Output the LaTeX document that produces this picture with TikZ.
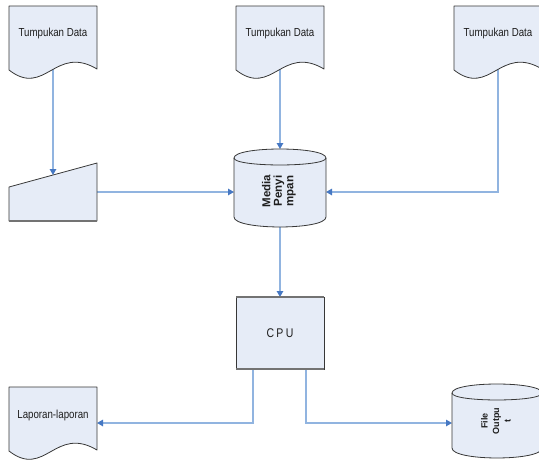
\documentclass[tikz,border=0pt]{standalone}
\usepackage{fontspec}
\setmainfont{Liberation Sans}
\usetikzlibrary{arrows.meta,calc}
\definecolor{shfill}{RGB}{230,236,247}
\definecolor{shdraw}{RGB}{55,55,55}
\definecolor{conncol}{RGB}{145,180,224}
\definecolor{tipcol}{RGB}{70,120,195}
\definecolor{edgegray}{RGB}{115,115,115}
\definecolor{txtcol}{RGB}{30,30,30}
\pgfdeclarelayer{bg}
\pgfsetlayers{bg,main}
\newcommand\docshape[2]{%
  \begin{scope}[shift={(#1,#2)}]
    \path[shapefill] (0,0) -- (88,0) -- (88,63) .. controls (46,38) and (36,92) .. (0,64) -- cycle;
  \end{scope}}
\newcommand\tallt[1]{\scalebox{1}[1.2]{#1}}
\begin{document}
\begin{tikzpicture}[x=1pt,y=-1pt,
  shapefill/.style={fill=shfill,draw=shdraw,line width=0.8pt,line join=round},
  box/.style={draw=none,inner sep=0pt,outer sep=0pt,rectangle},
  doctext/.style={font=\fontsize{9.7}{11}\selectfont,text=txtcol,inner sep=0pt},
  vtext/.style={rotate=90,align=center,inner sep=0pt,text=txtcol},
  conn/.style={draw=conncol,line width=1.3pt,-{Triangle[length=6pt,width=6.5pt,color=tipcol]}},
  thickedge/.style={draw=edgegray,line width=2pt}]
\useasboundingbox (0,0) rectangle (539,459);

% document shapes
\docshape{9}{6}
\docshape{236}{6}
\docshape{454}{6}
\docshape{9}{387}
\node[doctext] (d1) at (53,33) {\tallt{Tumpukan Data}};
\node[doctext] (d2) at (280,33) {\tallt{Tumpukan Data}};
\node[doctext] (d3) at (498,33) {\tallt{Tumpukan Data}};
\node[doctext] (lap) at (53,415) {\tallt{Laporan-laporan}};

% manual input
\node[box,minimum width=88pt,minimum height=58pt] (mi) at (53,192) {};
\path[shapefill] (mi.south west) -- (mi.south east) -- (mi.north east) -- ($(mi.south west)+(0,-34)$) -- cycle;
\draw[thickedge] (mi.south west) -- (mi.south east);

% media penyimpan
\node[box,minimum width=92pt,minimum height=78pt] (media) at (280,188) {};
\path[shapefill] (234,158) .. controls (234,146) and (326,146) .. (326,158) -- (326,217)
  .. controls (326,230.3) and (234,230.3) .. (234,217) -- cycle;
\draw[draw=shdraw,line width=0.8pt] (234,158) .. controls (234,167.3) and (326,167.3) .. (326,158);
\node[vtext,font=\bfseries\fontsize{11.5}{11.5}\selectfont] (medtext) at (279,191) {Media\\Penyi\\mpan};

% CPU
\node[rectangle,fill=shfill,draw=shdraw,line width=1pt,minimum width=88pt,minimum height=72pt,
  inner sep=0pt,outer sep=0pt,text=txtcol,
  font=\fontsize{10.5}{12}\selectfont\addfontfeatures{LetterSpace=22}] (cpu) at (280,333) {\tallt{CPU}};
\draw[thickedge] (cpu.north west) -- (cpu.north east);
\draw[thickedge] (cpu.south west) -- (cpu.south east);

% file output
\node[box,minimum width=90pt,minimum height=74pt] (fo) at (497,421) {};
\path[shapefill] (452,393) .. controls (452,381) and (542,381) .. (542,393) -- (542,448)
  .. controls (542,461.3) and (452,461.3) .. (452,448) -- cycle;
\draw[draw=shdraw,line width=0.8pt] (452,393) .. controls (452,402.3) and (542,402.3) .. (542,393);
\node[vtext,font=\bfseries\fontsize{9}{11.5}\selectfont] (fotext) at (496,421) {File\\Outpu\\t};

\coordinate (mitop) at (53,175);
\coordinate (lapin) at (97,423);
\coordinate (foin) at (452,423);

\begin{pgfonlayer}{bg}
\draw[conn] (d1) -- (mitop);
\draw[conn] (d2) -- (media.north);
\draw[conn] (mi.east) -- (mi.east -| media.west);
\draw[conn] (d3) |- (mi.east -| media.east);
\draw[conn] (media.south) -- (cpu.north);
\draw[conn] ([xshift=-27pt]cpu.south) |- (lapin);
\draw[conn] ([xshift=26pt]cpu.south) |- (foin);
\end{pgfonlayer}
\end{tikzpicture}
\end{document}
